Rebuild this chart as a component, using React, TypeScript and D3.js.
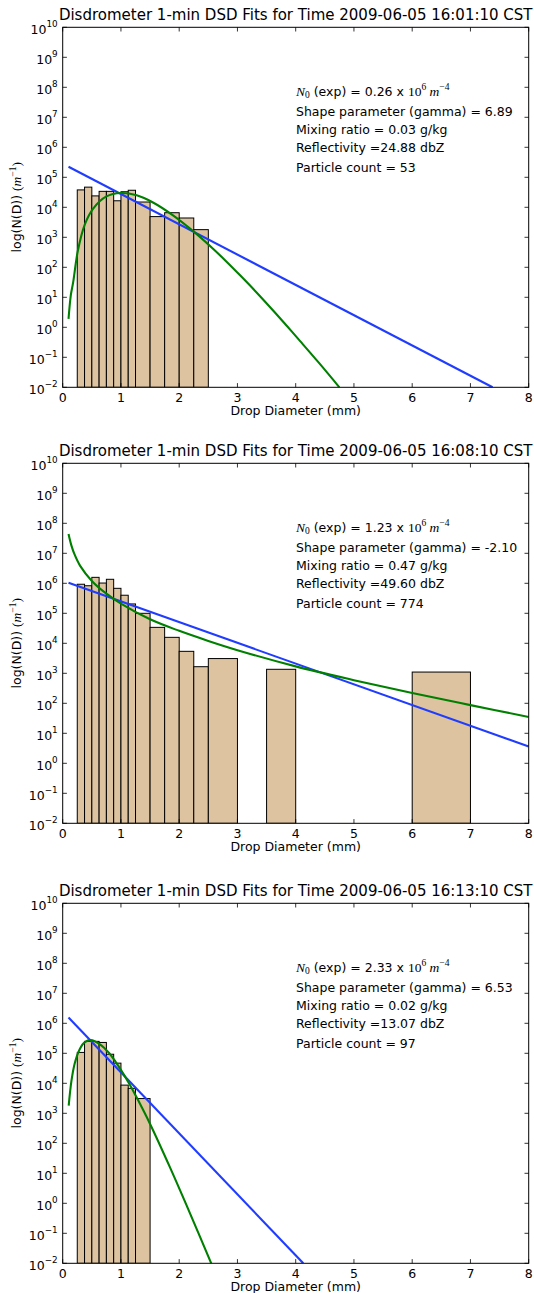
import React from 'react';
import * as d3 from 'd3';

// figure layout
const W = 534;
const H = 1293;
const left = 62.7;
const plotW = 466;
const plotH = 360;
const panelTops = [27.3, 463.3, 903.3];

// drop size bins (mm)
const binLeft = [0.25, 0.375, 0.5, 0.625, 0.75, 0.875, 1.0, 1.125, 1.25, 1.5, 1.75, 2.0, 2.25, 2.5, 3.0, 3.5, 4.0, 5.0, 6.0, 7.0];
const binRight = [0.375, 0.5, 0.625, 0.75, 0.875, 1.0, 1.125, 1.25, 1.5, 1.75, 2.0, 2.25, 2.5, 3.0, 3.5, 4.0, 5.0, 6.0, 7.0, 8.0];

// observed N(D) per bin, 0 = empty
const counts1 = [3.8e4, 4.7e4, 2.4e4, 3.4e4, 3.4e4, 1.65e4, 3.3e4, 3.7e4, 1.5e4, 4.9e3, 6.6e3, 4.4e3, 1.8e3, 0, 0, 0, 0, 0, 0, 0];
const counts2 = [9.3e5, 8.3e5, 1.58e6, 1.02e6, 1.36e6, 6.8e5, 4.0e5, 2.05e5, 1.0e5, 3.4e4, 1.58e4, 5.4e3, 1.66e3, 3.1e3, 0, 1.36e3, 0, 0, 1.1e3, 0];
const counts3 = [1.07e5, 2.5e5, 2.5e5, 2.3e5, 9.3e4, 4.7e4, 8.7e3, 6.8e3, 3.1e3, 0, 0, 0, 0, 0, 0, 0, 0, 0, 0, 0];

// exponential fits [D, N]
const expFit1 = [[0.1, 2.25e5], [7.38, 0.01]];
const expFit2 = [[0.1, 1.05e6], [8.0, 3.6]];
const expFit3 = [[0.1, 1.55e6], [4.13, 0.01]];

// gamma fits [D, N]
const gammaFit1 = [[0.1, 1.9], [0.14, 12], [0.18, 32], [0.26, 355], [0.38, 2.7e3], [0.52, 8.9e3], [0.75, 2.3e4], [1.0, 3.0e4], [1.27, 2.5e4], [1.55, 1.45e4], [1.9, 5.3e3], [2.24, 1.6e3], [2.59, 400], [2.8, 163], [3.05, 53], [3.3, 16.6], [3.62, 3.5], [3.85, 1.1], [4.08, 0.34], [4.4, 0.065], [4.75, 0.01]];
const gammaFit2 = [[0.1, 4.4e7], [0.15, 1.8e7], [0.2, 9.5e6], [0.3, 3.8e6], [0.5, 1.2e6], [0.75, 4.5e5], [1.0, 2.1e5], [1.5, 6.3e4], [2.0, 2.6e4], [2.5, 1.2e4], [3.0, 5.9e3], [4.0, 1.7e3], [5.0, 590], [6.0, 220], [7.0, 87], [8.0, 35]];
const gammaFit3 = [[0.103, 1.8e3], [0.15, 1.2e4], [0.206, 4.6e4], [0.29, 1.35e5], [0.38, 2.35e5], [0.48, 2.75e5], [0.64, 2.0e5], [0.8, 1.0e5], [0.92, 4.8e4], [1.05, 1.95e4], [1.15, 9.1e3], [1.3, 2.6e3], [1.5, 440], [1.84, 16], [2.18, 0.49], [2.55, 0.01]];

const times = ['16:01:10', '16:08:10', '16:13:10'];
const n0Text = ['0.26', '1.23', '2.33'];
const shapeText = ['6.89', '-2.10', '6.53'];
const mixText = ['0.03', '0.47', '0.02'];
const reflText = ['24.88', '49.60', '13.07'];
const countText = ['53', '774', '97'];

const xTicks = [0, 1, 2, 3, 4, 5, 6, 7, 8];
const yExps = [-2, -1, 0, 1, 2, 3, 4, 5, 6, 7, 8, 9, 10];

const panels = [
  { counts: counts1, expFit: expFit1, gammaFit: gammaFit1 },
  { counts: counts2, expFit: expFit2, gammaFit: gammaFit2 },
  { counts: counts3, expFit: expFit3, gammaFit: gammaFit3 },
];

const SANS = 'DejaVu Sans';
const SERIF = 'Liberation Serif';
const BAR = '#DDC39F';
const BLUE = '#1f3cff';
const GREEN = '#008000';

const x = d3.scaleLinear().domain([0, 8]).range([0, plotW]);
const y = d3.scaleLog().domain([1e-2, 1e10]).range([plotH, 0]);

const straight = d3.line<number[]>().x(d => x(d[0])).y(d => y(d[1]));
const smooth = d3.line<number[]>().x(d => x(d[0])).y(d => y(d[1])).curve(d3.curveCatmullRom.alpha(0.5));

const Panel = ({ i }: { i: number }) => {
  const p = panels[i];
  const top = panelTops[i];
  const clipId = `clip${i}`;
  const tx = 296 - left;
  const lines = [64, 84, 102, 120, 140].map(v => v + 4.5);
  return (
    <g transform={`translate(${left},${top})`}>
      <defs>
        <clipPath id={clipId}><rect x={0} y={0} width={plotW} height={plotH} /></clipPath>
      </defs>
      <rect x={0} y={0} width={plotW} height={plotH} fill="#fff" />
      <g clipPath={`url(#${clipId})`}>
        {p.counts.map((v, k) => v > 0 ? (
          <rect key={k} x={x(binLeft[k])} y={y(v)} width={x(binRight[k]) - x(binLeft[k])}
            height={plotH - y(v)} fill={BAR} stroke="#000" strokeWidth={1} />
        ) : null)}
        <path d={straight(p.expFit) || ''} fill="none" stroke={BLUE} strokeWidth={2.1} />
        <path d={smooth(p.gammaFit) || ''} fill="none" stroke={GREEN} strokeWidth={2.1} />
      </g>
      <rect x={0} y={0} width={plotW} height={plotH} fill="none" stroke="#000" strokeWidth={1} />
      {/* ticks, inside on all sides */}
      {xTicks.map(t => (
        <g key={'x' + t}>
          <line x1={x(t)} x2={x(t)} y1={plotH} y2={plotH - 4.2} stroke="#000" strokeWidth={0.8} />
          <line x1={x(t)} x2={x(t)} y1={0} y2={4.2} stroke="#000" strokeWidth={0.8} />
          <text x={x(t)} y={plotH + 15} textAnchor="middle" fontFamily={SANS} fontSize={12.5}>{t}</text>
        </g>
      ))}
      {yExps.map(e => {
        const yy = y(Math.pow(10, e));
        return (
          <g key={'y' + e}>
            <line x1={0} x2={4.2} y1={yy} y2={yy} stroke="#000" strokeWidth={0.8} />
            <line x1={plotW} x2={plotW - 4.2} y1={yy} y2={yy} stroke="#000" strokeWidth={0.8} />
            <text x={-5} y={yy + 6.5} textAnchor="end" fontFamily={SANS} fontSize={12.5}>
              10<tspan dy={-6.5} fontSize={8.8}>{e < 0 ? '\u2212' + Math.abs(e) : e}</tspan>
            </text>
          </g>
        );
      })}
      <text x={plotW / 2} y={-7} textAnchor="middle" fontFamily={SANS} fontSize={15}>
        {`Disdrometer 1-min DSD Fits for Time 2009-06-05 ${times[i]} CST`}
      </text>
      <text x={plotW / 2} y={plotH + 28} textAnchor="middle" fontFamily={SANS} fontSize={12.5}>Drop Diameter (mm)</text>
      <text transform={`translate(${20.5 - left},${plotH / 2}) rotate(-90)`} textAnchor="middle" fontFamily={SANS} fontSize={12.5}>
        log(N(D)) <tspan fontFamily={SERIF} fontSize={13.5}>(</tspan><tspan fontFamily={SERIF} fontStyle="italic" fontSize={13.5}>m</tspan><tspan fontFamily={SERIF} fontSize={9.5} dy={-5}>{'\u22121'}</tspan><tspan fontFamily={SERIF} fontSize={13.5} dy={5}>)</tspan>
      </text>
      {/* annotation block */}
      <text x={tx} y={lines[0]} fontFamily={SANS} fontSize={12.5}>
        <tspan fontFamily={SERIF} fontStyle="italic" fontSize={13.5}>N</tspan>
        <tspan fontFamily={SERIF} fontSize={9.5} dy={2.5}>0</tspan>
        <tspan dy={-2.5}>{` (exp) = ${n0Text[i]} x `}</tspan>
        <tspan fontFamily={SERIF} fontSize={13.5}>10</tspan>
        <tspan fontFamily={SERIF} fontSize={9.5} dy={-5.5}>6</tspan>
        <tspan fontFamily={SERIF} fontStyle="italic" fontSize={13.5} dy={5.5}>{' m'}</tspan>
        <tspan fontFamily={SERIF} fontSize={9.5} dy={-5.5}>{'\u22124'}</tspan>
      </text>
      <text x={tx} y={lines[1]} fontFamily={SANS} fontSize={12.5}>{`Shape parameter (gamma) = ${shapeText[i]}`}</text>
      <text x={tx} y={lines[2]} fontFamily={SANS} fontSize={12.5}>{`Mixing ratio = ${mixText[i]} g/kg`}</text>
      <text x={tx} y={lines[3]} fontFamily={SANS} fontSize={12.5}>{`Reflectivity =${reflText[i]} dbZ`}</text>
      <text x={tx} y={lines[4]} fontFamily={SANS} fontSize={12.5}>{`Particle count = ${countText[i]}`}</text>
    </g>
  );
};

export default function App() {
  return (
    <svg width={W} height={H} style={{ position: 'absolute', left: 0, top: 0, background: '#fff' }}>
      <rect width={W} height={H} fill="#fff" />
      {panels.map((_, i) => <Panel key={i} i={i} />)}
    </svg>
  );
}
